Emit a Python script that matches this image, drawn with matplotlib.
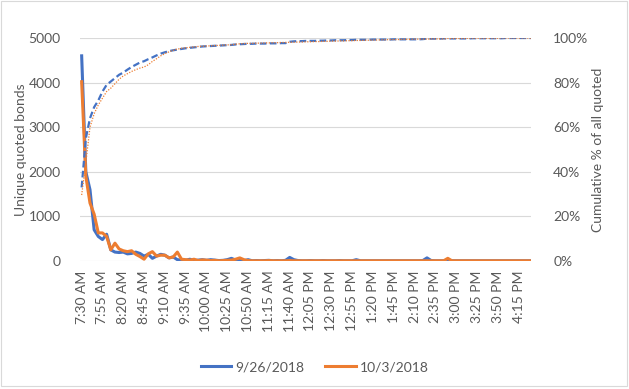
import numpy as np
import pandas as pd
import matplotlib
matplotlib.use("Agg")
import matplotlib.pyplot as plt
from matplotlib.patches import Rectangle
from matplotlib.ticker import FuncFormatter

plt.rcParams['font.family'] = ['Lato', 'DejaVu Sans']

# 5-minute buckets, 7:30 AM to 4:30 PM
times = pd.date_range("2018-09-26 07:30", "2018-09-26 16:30", freq="5min")
time_labels = [t.strftime("%I:%M %p").lstrip("0") for t in times]

# unique quoted bonds per bucket
bonds_0926 = [4600, 2000, 1600, 700, 550, 480, 600, 250, 200, 190,
              200, 160, 170, 200, 170, 110, 150, 60, 110, 150,
              130, 70, 90, 30, 20, 15, 40, 10, 20, 30,
              15, 30, 20, 10, 15, 30, 60, 20, 10, 5,
              30, 5, 10, 5, 10, 15, 5, 10, 5, 15,
              80, 30, 10, 5, 5, 10, 5, 5, 10, 5,
              5, 5, 10, 5, 5, 5, 30, 5, 5, 5,
              5, 5, 5, 5, 5, 5, 5, 5, 5, 5,
              5, 5, 10, 70, 10, 5, 5, 5, 5, 5,
              5, 5, 5, 5, 5, 5, 5, 5, 5, 5,
              5, 5, 5, 5, 5, 5, 5, 5, 5]
bonds_1003 = [4020, 1900, 1300, 1050, 630, 630, 550, 250, 400, 270,
              230, 210, 230, 150, 100, 40, 160, 210, 110, 130,
              130, 70, 90, 200, 40, 30, 20, 40, 10, 25,
              20, 10, 15, 5, 10, 15, 20, 40, 70, 30,
              10, 5, 5, 5, 5, 10, 5, 5, 5, 5,
              10, 5, 5, 5, 5, 5, 5, 5, 5, 5,
              5, 5, 5, 5, 5, 5, 5, 5, 5, 5,
              5, 5, 5, 5, 5, 5, 5, 5, 5, 5,
              5, 5, 5, 5, 5, 5, 5, 5, 60, 5,
              5, 5, 5, 5, 5, 5, 5, 5, 5, 5,
              5, 5, 5, 5, 5, 5, 5, 5, 5]

# cumulative % of all quoted bonds
cum_0926 = [33, 55, 64, 69, 72, 76, 79, 80.5, 82, 83.5,
            84.5, 85.8, 87, 88, 89, 89.6, 90.5, 91.3, 92.2, 93,
            93.6, 94.1, 94.5, 94.8, 95.1, 95.4, 95.6, 95.8, 96.0, 96.2,
            96.3, 96.4, 96.5, 96.6, 96.7, 96.8, 96.9, 97.1, 97.2, 97.3,
            97.4, 97.4, 97.5, 97.5, 97.5, 97.6, 97.6, 97.6, 97.7, 97.7,
            98.3, 98.5, 98.6, 98.6, 98.7, 98.7, 98.7, 98.8, 98.8, 98.9,
            98.9, 99.0, 99.0, 99.0, 99.1, 99.1, 99.2, 99.2, 99.2, 99.2,
            99.3, 99.3, 99.3, 99.3, 99.3, 99.4, 99.4, 99.4, 99.4, 99.4,
            99.4, 99.4, 99.5, 99.7, 99.7, 99.7, 99.7, 99.8, 99.8, 99.8,
            99.8, 99.8, 99.8, 99.8, 99.9, 99.9, 99.9, 99.9, 99.9, 99.9,
            99.9, 99.9, 100, 100, 100, 100, 100, 100, 100]
cum_1003 = [29.6, 44, 60, 66, 70, 73, 76, 77.5, 79.5, 81.5,
            83, 84, 85, 85.8, 86.5, 87, 88, 89.5, 90.7, 92,
            93, 93.8, 94.5, 95, 95.4, 95.6, 95.8, 96.0, 96.2, 96.3,
            96.4, 96.5, 96.6, 96.7, 96.8, 96.9, 97.0, 97.2, 97.4, 97.5,
            97.6, 97.6, 97.7, 97.7, 97.8, 97.8, 97.9, 97.9, 98.0, 98.0,
            98.1, 98.1, 98.2, 98.2, 98.3, 98.3, 98.4, 98.4, 98.5, 98.5,
            98.6, 98.6, 98.7, 98.7, 98.8, 98.8, 98.9, 98.9, 99.0, 99.0,
            99.1, 99.1, 99.2, 99.2, 99.3, 99.3, 99.3, 99.4, 99.4, 99.4,
            99.5, 99.5, 99.5, 99.5, 99.6, 99.6, 99.6, 99.6, 99.8, 99.8,
            99.8, 99.8, 99.8, 99.9, 99.9, 99.9, 99.9, 99.9, 99.9, 99.9,
            99.9, 100, 100, 100, 100, 100, 100, 100, 100]

blue = '#4472C4'
orange = '#ED7D31'
grey = '#595959'
fs = 10

x = np.arange(len(times))

fig = plt.figure(figsize=(6.29, 3.89), dpi=100)
ax = fig.add_axes([80/629, 1-261/389, 451/629, 223/389])
ax2 = ax.twinx()

l1, = ax.plot(x, bonds_0926, color=blue, lw=2.2, solid_joinstyle='round', label='9/26/2018')
l2, = ax.plot(x, bonds_1003, color=orange, lw=2.2, solid_joinstyle='round', label='10/3/2018')
ax2.plot(x, cum_0926, color=blue, lw=1.6, linestyle=(0, (3, 1.5)))
ax2.plot(x, cum_1003, color=orange, lw=0.9, linestyle=(0, (1, 1.2)))

ax.set_xlim(-0.4, len(times) - 1)
ax.set_ylim(0, 5000)
ax2.set_ylim(0, 100)
ax.set_yticks(range(0, 5001, 1000))
ax2.set_yticks(range(0, 101, 20))
ax2.yaxis.set_major_formatter(FuncFormatter(lambda v, _: f'{v:.0f}%'))

ax.set_xticks(x[::5])
ax.set_xticklabels(time_labels[::5], rotation=90)

ax.grid(axis='y', color='#d9d9d9', lw=0.8)
ax.set_axisbelow(True)
for a in (ax, ax2):
    for s in a.spines.values():
        s.set_visible(False)
    a.tick_params(length=0, colors=grey, labelsize=fs)
ax.tick_params(axis='y', pad=14)
ax.tick_params(axis='x', pad=7)
ax2.tick_params(axis='y', pad=16)

ax.set_ylabel('Unique quoted bonds', color=grey, fontsize=fs)
ax.yaxis.set_label_coords(-53/451, 0.5)
ax2.set_ylabel('Cumulative % of all quoted', color=grey, fontsize=fs)
ax2.yaxis.set_label_coords(1 + 61/451, 0.5)

fig.legend(handles=[l1, l2], loc='center', bbox_to_anchor=(315/629, 1-367/389),
           ncol=2, frameon=False, fontsize=fs, labelcolor=grey,
           handlelength=2.2, columnspacing=1.5, handletextpad=0.3)

fig.patches.append(Rectangle((0.5/629, 3/389), 626/629, 385.5/389, transform=fig.transFigure,
                             fill=False, edgecolor='#d9d9d9', lw=0.8))

fig.savefig('out.png', dpi=100)
